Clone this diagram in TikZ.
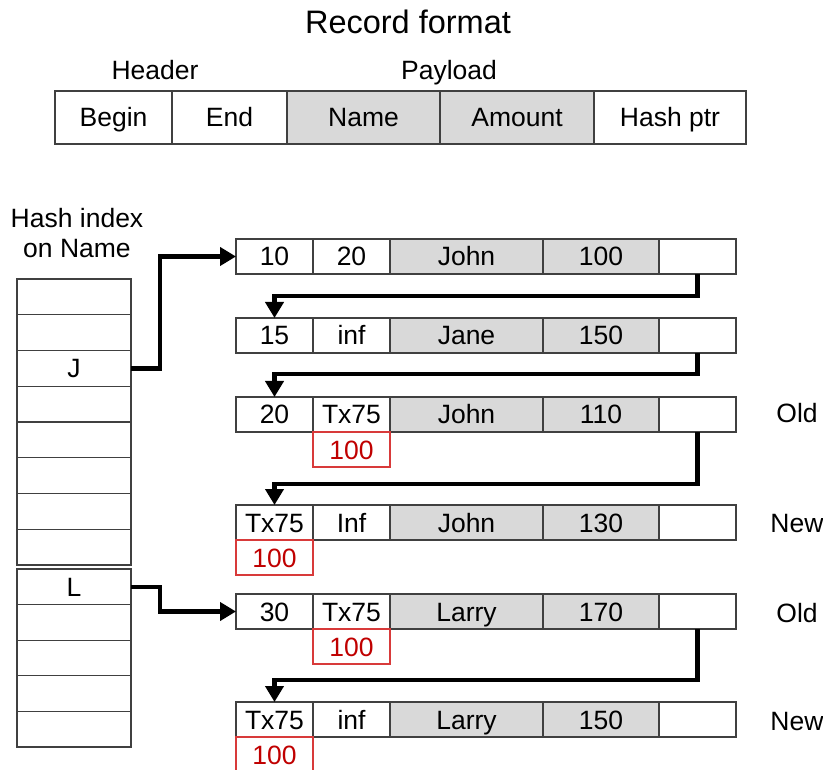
\documentclass[tikz,border=0pt]{standalone}
\usepackage{fontspec}
\setmainfont{Liberation Sans}
\usetikzlibrary{arrows.meta}
\definecolor{cgray}{HTML}{D9D9D9}
\definecolor{cborder}{HTML}{404040}
\definecolor{ctxtred}{HTML}{C00000}
\definecolor{cborderred}{HTML}{D83A3A}
\newcommand{\bodyfont}{\fontsize{26.5}{31}\selectfont}
\tikzset{
  cell/.style={draw=cborder, line width=1.2pt, fill=white, minimum height=35pt,
    inner sep=0pt, outer sep=0pt, text height=19pt, text depth=0pt, font=\bodyfont},
  bigcell/.style={cell, minimum height=53pt},
  hcell/.style={cell, minimum width=114pt},
  redcell/.style={cell, draw=cborderred, text=ctxtred, minimum width=77pt},
  lbl/.style={inner sep=0pt, text height=19pt, text depth=0pt, font=\bodyfont},
  ptr/.style={line width=4.5pt, -{Triangle[length=16pt,width=18pt]}}
}
\newcommand{\recrow}[6]{%
  \node[cell, minimum width=77pt] (#1c1) at (274.5,#2) {#3};
  \node[cell, minimum width=77pt] (#1c2) at (351.5,#2) {#4};
  \node[cell, fill=cgray, minimum width=153pt] (#1c3) at (466.5,#2) {#5};
  \node[cell, fill=cgray, minimum width=116pt] (#1c4) at (601,#2) {#6};
  \node[cell, minimum width=77pt] (#1c5) at (697.5,#2) {};
}
\begin{document}
\begin{tikzpicture}[x=1pt, y=-1pt]
\useasboundingbox (0,0) rectangle (823,770);
% Record format
\node[inner sep=0pt, text height=23pt, text depth=0pt, font=\fontsize{32.5}{38}\selectfont] (title) at (408,22) {Record format};
\node[lbl] (header) at (155,70) {Header};
\node[lbl] (payload) at (449,70) {Payload};
\node[bigcell, minimum width=117pt] (fbegin) at (113.5,117.5) {Begin};
\node[bigcell, minimum width=115pt] (fend) at (229.5,117.5) {End};
\node[bigcell, fill=cgray, minimum width=153pt] (fname) at (363.5,117.5) {Name};
\node[bigcell, fill=cgray, minimum width=154pt] (famount) at (517,117.5) {Amount};
\node[bigcell, minimum width=152pt] (fhash) at (670,117.5) {Hash ptr};
% Hash index
\node[lbl] (hidx1) at (77,218) {Hash index};
\node[lbl] (hidx2) at (77,248) {on Name};
\foreach \i in {1,...,8} {
  \node[hcell, minimum height=35.75pt] (hA\i) at (74,{279+17.875+35.75*(\i-1)}) {};
}
\node[lbl] at (hA3) {J};
\foreach \i in {1,...,5} {
  \node[hcell, minimum height=35.6pt] (hB\i) at (74,{569+17.8+35.6*(\i-1)}) {};
}
\node[lbl] at (hB1) {L};
% Records
\recrow{ra}{256.5}{10}{20}{John}{100}
\recrow{rb}{335.5}{15}{inf}{Jane}{150}
\recrow{rc}{414.5}{20}{Tx75}{John}{110}
\node[redcell] (rcx) at (351.5,449.5) {100};
\recrow{rd}{522.5}{Tx75}{Inf}{John}{130}
\node[redcell] (rdx) at (274.5,557.5) {100};
\recrow{re}{611.5}{30}{Tx75}{Larry}{170}
\node[redcell] (rex) at (351.5,646.5) {100};
\recrow{rf}{719.5}{Tx75}{inf}{Larry}{150}
\node[redcell] (rfx) at (274.5,754.5) {100};
% Old / New
\node[lbl] (o1) at (797,413) {Old};
\node[lbl] (n1) at (797,522.5) {New};
\node[lbl] (o2) at (797,613) {Old};
\node[lbl] (n2) at (797,720.5) {New};
% Pointers
\draw[ptr] (hA3.east) -- ++(29,0) |- (rac1.west);
\draw[ptr] (hB1.east) -- ++(29,0) |- (rec1.west);
\draw[ptr] (rac5.south) -- ++(0,22) -| (rbc1.north);
\draw[ptr] (rbc5.south) -- ++(0,21) -| (rcc1.north);
\draw[ptr] (rcc5.south) -- ++(0,52) -| (rdc1.north);
\draw[ptr] (rec5.south) -- ++(0,51) -| (rfc1.north);
\end{tikzpicture}
\end{document}
